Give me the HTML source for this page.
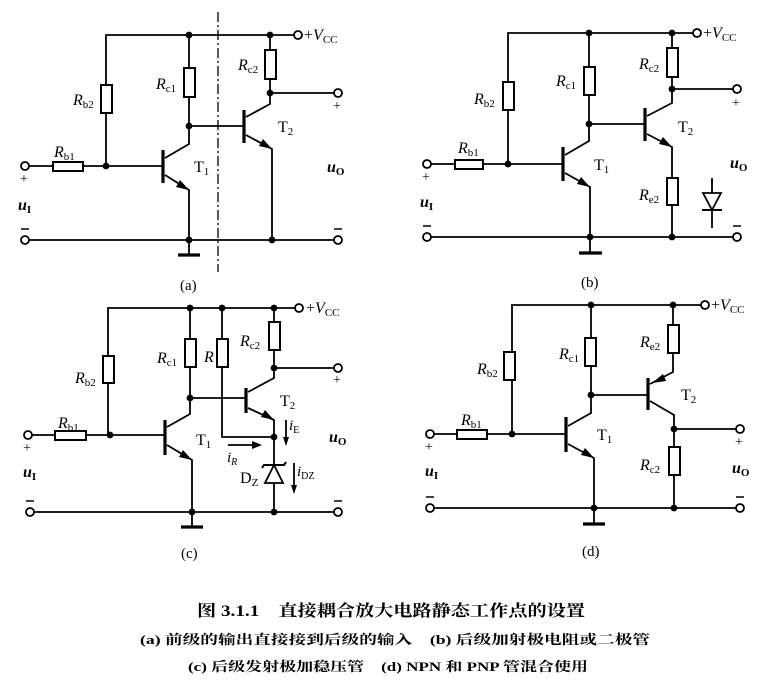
<!DOCTYPE html>
<html><head><meta charset="utf-8"><style>
html,body{margin:0;padding:0;background:#fff;}
svg{display:block;}
text{font-family:"Liberation Serif","Noto Serif CJK SC",serif;fill:#000;}
.cn{font-family:"Liberation Serif","Noto Serif CJK SC","Noto Sans CJK SC",serif;font-weight:bold;}
</style></head><body>
<svg width="779" height="682" viewBox="0 0 779 682" xmlns="http://www.w3.org/2000/svg">
<g stroke="#000" stroke-width="1.8" fill="none">
<!-- ===== (a) ===== -->
<polyline points="106,166 106,35 297,35"/>
<line x1="25" y1="166" x2="106" y2="166"/>
<line x1="106" y1="166" x2="163" y2="166"/>
<line x1="189" y1="35" x2="189" y2="126"/>
<line x1="189" y1="126" x2="244" y2="126"/>
<polyline points="165,158 189,144 189,126"/>
<polyline points="165,175 189,190 189,255"/>
<line x1="25" y1="240" x2="338" y2="240"/>
<line x1="270" y1="35" x2="270" y2="93"/>
<line x1="270" y1="93" x2="338" y2="93"/>
<polyline points="246,117 270,104 270,93"/>
<polyline points="246,135 272,149 272,240"/>
<line x1="218" y1="12" x2="218" y2="272" stroke-dasharray="10,3,2,3" stroke-width="1.3"/>
<!-- ===== (b) ===== -->
<polyline points="508,164 508,33 696,33"/>
<line x1="427" y1="164" x2="563" y2="164"/>
<line x1="589" y1="33" x2="589" y2="124"/>
<line x1="589" y1="124" x2="645" y2="124"/>
<polyline points="565,155 589,141 589,124"/>
<polyline points="565,173 590,187 590,253"/>
<line x1="427" y1="237" x2="737" y2="237"/>
<line x1="672" y1="33" x2="672" y2="89"/>
<line x1="672" y1="89" x2="737" y2="89"/>
<polyline points="647,116 672,103 672,89"/>
<polyline points="647,134 672,147 672,237"/>
<line x1="712" y1="178" x2="712" y2="228"/>
<!-- ===== (c) ===== -->
<polyline points="108,435 108,308 298,308"/>
<line x1="28" y1="435" x2="165" y2="435"/>
<line x1="190" y1="308" x2="190" y2="398"/>
<line x1="190" y1="398" x2="246" y2="398"/>
<polyline points="167,427 190,414 190,398"/>
<polyline points="167,445 192,460 192,527"/>
<polyline points="222,308 222,437 274,437"/>
<line x1="30" y1="512" x2="338" y2="512"/>
<line x1="274" y1="308" x2="274" y2="368"/>
<line x1="274" y1="368" x2="338" y2="368"/>
<polyline points="248,392 274,378 274,368"/>
<polyline points="248,408 274,420 274,512"/>
<line x1="228" y1="445" x2="258" y2="445"/>
<line x1="286" y1="420" x2="286" y2="442"/>
<line x1="294" y1="463" x2="294" y2="490"/>
<!-- ===== (d) ===== -->
<polyline points="512,434 512,305 704,305"/>
<line x1="430" y1="434" x2="566" y2="434"/>
<line x1="591" y1="305" x2="591" y2="395"/>
<line x1="591" y1="395" x2="648" y2="395"/>
<polyline points="568,426 591,413 591,395"/>
<polyline points="568,444 594,458 594,524"/>
<line x1="430" y1="508" x2="740" y2="508"/>
<polyline points="673,305 673,372 650,384"/>
<polyline points="650,401 674,415 674,508"/>
<line x1="674" y1="429" x2="740" y2="429"/>
</g>
<g stroke="#000" stroke-width="3.2">
<line x1="163" y1="150" x2="163" y2="183"/>
<line x1="244" y1="110" x2="244" y2="143"/>
<line x1="178" y1="255" x2="200" y2="255"/>
<line x1="563" y1="147" x2="563" y2="181"/>
<line x1="645" y1="108" x2="645" y2="141"/>
<line x1="579" y1="253" x2="602" y2="253"/>
<line x1="165" y1="420" x2="165" y2="455"/>
<line x1="246" y1="388" x2="246" y2="413"/>
<line x1="181" y1="527" x2="203" y2="527"/>
<line x1="566" y1="417" x2="566" y2="452"/>
<line x1="648" y1="378" x2="648" y2="410"/>
<line x1="583" y1="524" x2="605" y2="524"/>
</g>
<g stroke="#000" stroke-width="2" fill="#fff">
<rect x="101" y="85" width="11" height="28"/>
<rect x="53" y="162" width="30" height="9"/>
<rect x="184" y="68" width="11" height="29"/>
<rect x="265" y="50" width="11" height="29"/>
<rect x="503" y="82" width="11" height="28"/>
<rect x="455" y="160" width="28" height="9"/>
<rect x="584" y="67" width="11" height="28"/>
<rect x="667" y="48" width="11" height="29"/>
<rect x="667" y="178" width="11" height="27"/>
<rect x="103" y="356" width="11" height="27"/>
<rect x="55" y="431" width="31" height="9"/>
<rect x="185" y="339" width="11" height="28"/>
<rect x="217" y="339" width="11" height="28"/>
<rect x="269" y="322" width="11" height="28"/>
<rect x="504" y="352" width="11" height="28"/>
<rect x="457" y="430" width="30" height="9"/>
<rect x="585" y="338" width="11" height="28"/>
<rect x="668" y="325" width="11" height="28"/>
<rect x="669" y="447" width="11" height="28"/>
</g>
<g stroke="#000" stroke-width="1.8" fill="#fff">
<circle cx="25" cy="166" r="4"/><circle cx="25" cy="240" r="4"/>
<circle cx="298" cy="35" r="4"/><circle cx="338" cy="93" r="4"/><circle cx="338" cy="240" r="4"/>
<circle cx="427" cy="164" r="4"/><circle cx="427" cy="237" r="4"/>
<circle cx="697" cy="33" r="4"/><circle cx="737" cy="89" r="4"/><circle cx="737" cy="237" r="4"/>
<circle cx="28" cy="435" r="4"/><circle cx="30" cy="512" r="4"/>
<circle cx="299" cy="308" r="4"/><circle cx="338" cy="368" r="4"/><circle cx="338" cy="512" r="4"/>
<circle cx="430" cy="434" r="4"/><circle cx="430" cy="508" r="4"/>
<circle cx="705" cy="305" r="4"/><circle cx="740" cy="429" r="4"/><circle cx="740" cy="508" r="4"/>
</g>
<g fill="#000">
<circle cx="106" cy="166" r="3.4"/><circle cx="189" cy="35" r="3.4"/><circle cx="189" cy="126" r="3.4"/>
<circle cx="270" cy="35" r="3.4"/><circle cx="270" cy="93" r="3.4"/><circle cx="189" cy="240" r="3.4"/><circle cx="272" cy="240" r="3.4"/>
<circle cx="508" cy="164" r="3.4"/><circle cx="589" cy="33" r="3.4"/><circle cx="589" cy="124" r="3.4"/>
<circle cx="672" cy="33" r="3.4"/><circle cx="672" cy="89" r="3.4"/><circle cx="590" cy="237" r="3.4"/><circle cx="672" cy="237" r="3.4"/>
<circle cx="110" cy="435" r="3.4"/><circle cx="190" cy="308" r="3.4"/><circle cx="222" cy="308" r="3.4"/><circle cx="274" cy="308" r="3.4"/>
<circle cx="190" cy="398" r="3.4"/><circle cx="274" cy="368" r="3.4"/><circle cx="274" cy="437" r="3.4"/>
<circle cx="192" cy="512" r="3.4"/><circle cx="274" cy="512" r="3.4"/>
<circle cx="512" cy="434" r="3.4"/><circle cx="591" cy="305" r="3.4"/><circle cx="673" cy="305" r="3.4"/>
<circle cx="591" cy="395" r="3.4"/><circle cx="674" cy="429" r="3.4"/><circle cx="594" cy="508" r="3.4"/><circle cx="674" cy="508" r="3.4"/>
<polygon points="189,190 176,187 180,180"/>
<polygon points="272,149 259,146 263,139"/>
<polygon points="590,187 577,184 581,177"/>
<polygon points="672,147 659,144 663,137"/>
<polygon points="192,460 179,457 183,450"/>
<polygon points="274,420 261,417 265,410"/>
<polygon points="594,458 581,455 585,448"/>
<polygon points="652,383 663,374 666,381"/>
<polygon points="262,445 252,441 252,449"/>
<polygon points="286,446 283,437 289,437"/>
<polygon points="294,494 291,485 297,485"/>
</g>
<polygon points="703,193 721,193 712,210" fill="#fff" stroke="#000" stroke-width="1.8"/>
<line x1="702" y1="210" x2="722" y2="210" stroke="#000" stroke-width="2"/>
<polygon points="274,465 265,483 283,483" fill="#fff" stroke="#000" stroke-width="1.8"/>
<polyline points="262,468 264,465 284,465 286,462" fill="none" stroke="#000" stroke-width="2"/>
<g stroke="#000" stroke-width="1.5">
<line x1="21" y1="229" x2="29" y2="229"/><line x1="334" y1="229" x2="342" y2="229"/>
<line x1="423" y1="226" x2="431" y2="226"/><line x1="733" y1="226" x2="741" y2="226"/>
<line x1="26" y1="501" x2="34" y2="501"/><line x1="334" y1="501" x2="342" y2="501"/>
<line x1="426" y1="497" x2="434" y2="497"/><line x1="736" y1="497" x2="744" y2="497"/>
</g>
<g font-size="16">
<text x="73" y="105" font-style="italic">R<tspan font-size="11" font-style="normal" dy="3">b2</tspan></text>
<text x="54" y="157" font-style="italic">R<tspan font-size="11" font-style="normal" dy="3">b1</tspan></text>
<text x="156" y="89" font-style="italic">R<tspan font-size="11" font-style="normal" dy="3">c1</tspan></text>
<text x="238" y="70" font-style="italic">R<tspan font-size="11" font-style="normal" dy="3">c2</tspan></text>
<text x="194" y="172">T<tspan font-size="11" dy="3">1</tspan></text>
<text x="278" y="132">T<tspan font-size="11" dy="3">2</tspan></text>
<text x="304" y="40">+<tspan font-style="italic">V</tspan><tspan font-size="11" dy="3">CC</tspan></text>
<text x="333" y="110" font-size="14">+</text>
<text x="20" y="183" font-size="14">+</text>
<text x="18" y="210" font-weight="bold" font-style="italic">u<tspan font-size="11" font-style="normal" dy="3">I</tspan></text>
<text x="327" y="172" font-weight="bold" font-style="italic">u<tspan font-size="11" font-style="normal" dy="3">O</tspan></text>
<text x="180" y="290" font-size="15">(a)</text>
<text x="474" y="104" font-style="italic">R<tspan font-size="11" font-style="normal" dy="3">b2</tspan></text>
<text x="458" y="153" font-style="italic">R<tspan font-size="11" font-style="normal" dy="3">b1</tspan></text>
<text x="556" y="86" font-style="italic">R<tspan font-size="11" font-style="normal" dy="3">c1</tspan></text>
<text x="639" y="69" font-style="italic">R<tspan font-size="11" font-style="normal" dy="3">c2</tspan></text>
<text x="639" y="200" font-style="italic">R<tspan font-size="11" font-style="normal" dy="3">e2</tspan></text>
<text x="594" y="170">T<tspan font-size="11" dy="3">1</tspan></text>
<text x="678" y="132">T<tspan font-size="11" dy="3">2</tspan></text>
<text x="703" y="38">+<tspan font-style="italic">V</tspan><tspan font-size="11" dy="3">CC</tspan></text>
<text x="732" y="107" font-size="14">+</text>
<text x="422" y="181" font-size="14">+</text>
<text x="420" y="207" font-weight="bold" font-style="italic">u<tspan font-size="11" font-style="normal" dy="3">I</tspan></text>
<text x="730" y="168" font-weight="bold" font-style="italic">u<tspan font-size="11" font-style="normal" dy="3">O</tspan></text>
<text x="581" y="287" font-size="15">(b)</text>
<text x="75" y="383" font-style="italic">R<tspan font-size="11" font-style="normal" dy="3">b2</tspan></text>
<text x="58" y="428" font-style="italic">R<tspan font-size="11" font-style="normal" dy="3">b1</tspan></text>
<text x="157" y="363" font-style="italic">R<tspan font-size="11" font-style="normal" dy="3">c1</tspan></text>
<text x="204" y="362" font-style="italic">R</text>
<text x="240" y="346" font-style="italic">R<tspan font-size="11" font-style="normal" dy="3">c2</tspan></text>
<text x="196" y="445">T<tspan font-size="11" dy="3">1</tspan></text>
<text x="280" y="406">T<tspan font-size="11" dy="3">2</tspan></text>
<text x="227" y="462" font-style="italic" font-size="15">i<tspan font-size="10" dy="3">R</tspan></text>
<text x="289" y="430" font-style="italic" font-size="15">i<tspan font-size="10" font-style="normal" dy="3">E</tspan></text>
<text x="297" y="476" font-style="italic" font-size="15">i<tspan font-size="10" font-style="normal" dy="3">DZ</tspan></text>
<text x="240" y="483">D<tspan font-size="11" dy="3">Z</tspan></text>
<text x="306" y="313">+<tspan font-style="italic">V</tspan><tspan font-size="11" dy="3">CC</tspan></text>
<text x="333" y="384" font-size="14">+</text>
<text x="23" y="452" font-size="14">+</text>
<text x="23" y="477" font-weight="bold" font-style="italic">u<tspan font-size="11" font-style="normal" dy="3">I</tspan></text>
<text x="329" y="442" font-weight="bold" font-style="italic">u<tspan font-size="11" font-style="normal" dy="3">O</tspan></text>
<text x="181" y="558" font-size="15">(c)</text>
<text x="477" y="374" font-style="italic">R<tspan font-size="11" font-style="normal" dy="3">b2</tspan></text>
<text x="461" y="425" font-style="italic">R<tspan font-size="11" font-style="normal" dy="3">b1</tspan></text>
<text x="559" y="359" font-style="italic">R<tspan font-size="11" font-style="normal" dy="3">c1</tspan></text>
<text x="640" y="347" font-style="italic">R<tspan font-size="11" font-style="normal" dy="3">e2</tspan></text>
<text x="640" y="470" font-style="italic">R<tspan font-size="11" font-style="normal" dy="3">c2</tspan></text>
<text x="597" y="440">T<tspan font-size="11" dy="3">1</tspan></text>
<text x="681" y="400">T<tspan font-size="11" dy="3">2</tspan></text>
<text x="711" y="310">+<tspan font-style="italic">V</tspan><tspan font-size="11" dy="3">CC</tspan></text>
<text x="735" y="446" font-size="14">+</text>
<text x="425" y="451" font-size="14">+</text>
<text x="425" y="476" font-weight="bold" font-style="italic">u<tspan font-size="11" font-style="normal" dy="3">I</tspan></text>
<text x="732" y="473" font-weight="bold" font-style="italic">u<tspan font-size="11" font-style="normal" dy="3">O</tspan></text>
<text x="582" y="556" font-size="15">(d)</text>
</g>
<text class="cn" x="197" y="616" font-size="16" textLength="388" lengthAdjust="spacingAndGlyphs">图 3.1.1　直接耦合放大电路静态工作点的设置</text>
<text class="cn" x="140" y="644" font-size="13" textLength="510" lengthAdjust="spacingAndGlyphs">(a) 前级的输出直接接到后级的输入　(b) 后级加射极电阻或二极管</text>
<text class="cn" x="188" y="671" font-size="13" textLength="400" lengthAdjust="spacingAndGlyphs">(c) 后级发射极加稳压管　(d) NPN 和 PNP 管混合使用</text>
</svg>
</body></html>
